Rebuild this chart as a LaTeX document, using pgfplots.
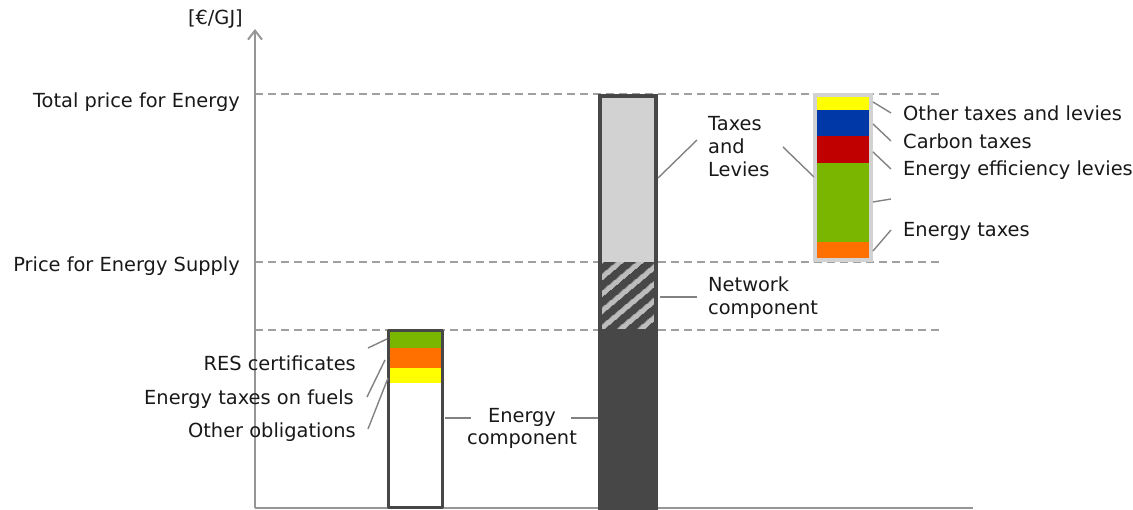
\documentclass[border=0pt]{standalone}
\usepackage{pgfplots}
\pgfplotsset{compat=1.18}
\usetikzlibrary{patterns.meta, arrows.meta}
\usepackage{fontspec}
\setmainfont{DejaVu Sans}
\definecolor{dgray}{RGB}{70,71,70}
\definecolor{lgray}{RGB}{210,210,210}
\definecolor{agray}{RGB}{150,150,150}
\definecolor{leader}{RGB}{130,130,130}
\definecolor{dashgray}{RGB}{160,160,160}
\definecolor{cgreen}{RGB}{122,182,0}
\definecolor{corange}{RGB}{255,112,0}
\definecolor{cyellow}{RGB}{255,255,0}
\definecolor{cred}{RGB}{192,0,0}
\definecolor{cblue}{RGB}{0,56,168}
\definecolor{txt}{RGB}{25,25,25}
\tikzset{lbl/.style={inner sep=0pt, text=txt, font=\fontsize{19.4}{23}\selectfont}}
\begin{document}
\begin{tikzpicture}
\begin{axis}[x=1pt,y=1pt,xmin=0,xmax=1133,ymin=0,ymax=510,
  axis lines=none, clip=false, scale only axis]
\addplot[draw=none] coordinates {(0,0) (1133,510)};
% dashed reference lines
\addplot[dashgray, line width=1.3pt, dash pattern=on 8pt off 5pt] coordinates {(255,416) (943,416)};
\addplot[dashgray, line width=1.3pt, dash pattern=on 8pt off 5pt] coordinates {(255,248) (943,248)};
\addplot[dashgray, line width=1.3pt, dash pattern=on 8pt off 5pt] coordinates {(255,180) (943,180)};
% axes
\addplot[agray, line width=2pt] coordinates {(255,2) (973,2)};
\addplot[agray, line width=2pt, -{Straight Barb[length=9pt,width=14pt,line width=2pt]}] coordinates {(255,2) (255,481)};
% bar 1
\addplot[fill=white, draw=none] coordinates {(388,2) (443,2) (443,127) (388,127)} --cycle;
\addplot[fill=cyellow, draw=none] coordinates {(388,127) (443,127) (443,142) (388,142)} --cycle;
\addplot[fill=corange, draw=none] coordinates {(388,142) (443,142) (443,162) (388,162)} --cycle;
\addplot[fill=cgreen, draw=none] coordinates {(388,162) (443,162) (443,180) (388,180)} --cycle;
\addplot[draw=dgray, line width=3.5pt, line join=round] coordinates {(388.5,2.5) (442.5,2.5) (442.5,179.5) (388.5,179.5)} --cycle;
% bar 2
\addplot[fill=dgray, draw=none] coordinates {(598,1) (658,1) (658,180) (598,180)} --cycle;
\addplot[fill=dgray, draw=none] coordinates {(598,180) (658,180) (658,248) (598,248)} --cycle;
\addplot[pattern={Lines[angle=40,distance=13pt,line width=5pt]}, pattern color=lgray!85!dgray, draw=none] coordinates {(602,181) (654,181) (654,248) (602,248)} --cycle;
\addplot[fill=lgray, draw=none] coordinates {(598,248) (658,248) (658,416) (598,416)} --cycle;
\addplot[draw=dgray, line width=4pt] coordinates {(600,2) (656,2) (656,414) (600,414)} --cycle;
% bar 3
\addplot[fill=corange, draw=none] coordinates {(816,250) (871,250) (871,268) (816,268)} --cycle;
\addplot[fill=cgreen, draw=none] coordinates {(816,268) (871,268) (871,347) (816,347)} --cycle;
\addplot[fill=cred, draw=none] coordinates {(816,347) (871,347) (871,374) (816,374)} --cycle;
\addplot[fill=cblue, draw=none] coordinates {(816,374) (871,374) (871,400) (816,400)} --cycle;
\addplot[fill=cyellow, draw=none] coordinates {(816,400) (871,400) (871,414) (816,414)} --cycle;
\addplot[draw=lgray, line width=4pt] coordinates {(815,250) (871,250) (871,415) (815,415)} --cycle;
% leader lines
\addplot[leader, line width=1.4pt] coordinates {(368,162) (387,171)};
\addplot[leader, line width=1.4pt] coordinates {(367,113) (385,150)};
\addplot[leader, line width=1.4pt] coordinates {(368,81) (388,132)};
\addplot[leader, line width=1.4pt] coordinates {(445,92) (471,92)};
\addplot[leader, line width=1.4pt] coordinates {(571,92) (598,92)};
\addplot[leader, line width=1.4pt] coordinates {(660,213) (697,213)};
\addplot[leader, line width=1.4pt] coordinates {(658,332) (697,370)};
\addplot[leader, line width=1.4pt] coordinates {(783,363) (814,333)};
\addplot[leader, line width=1.4pt] coordinates {(873,408) (891,397)};
\addplot[leader, line width=1.4pt] coordinates {(873,386) (891,369)};
\addplot[leader, line width=1.4pt] coordinates {(873,358) (891,341)};
\addplot[leader, line width=1.4pt] coordinates {(873,308) (891,311)};
\addplot[leader, line width=1.4pt] coordinates {(873,259) (891,280)};
% labels
\node[lbl, anchor=base east] at (axis cs:243,485) {[€/GJ]};
\node[lbl, anchor=base east] at (axis cs:240,402) {Total price for Energy};
\node[lbl, anchor=base east] at (axis cs:240,238) {Price for Energy Supply};
\node[lbl, anchor=base east] at (axis cs:356,139) {RES certificates};
\node[lbl, anchor=base east] at (axis cs:354,105) {Energy taxes on fuels};
\node[lbl, anchor=base east] at (axis cs:356,72) {Other obligations};
\node[lbl, anchor=base] at (axis cs:522,87) {Energy};
\node[lbl, anchor=base] at (axis cs:522,65) {component};
\node[lbl, anchor=base west] at (axis cs:708,218) {Network};
\node[lbl, anchor=base west] at (axis cs:708,195) {component};
\node[lbl, anchor=base west] at (axis cs:708,379) {Taxes};
\node[lbl, anchor=base west] at (axis cs:708,356) {and};
\node[lbl, anchor=base west] at (axis cs:708,333) {Levies};
\node[lbl, anchor=base west] at (axis cs:903,389) {Other taxes and levies};
\node[lbl, anchor=base west] at (axis cs:903,361) {Carbon taxes};
\node[lbl, anchor=base west] at (axis cs:903,334) {Energy efficiency levies};
\node[lbl, anchor=base west] at (axis cs:903,273) {Energy taxes};
\end{axis}
\end{tikzpicture}
\end{document}
